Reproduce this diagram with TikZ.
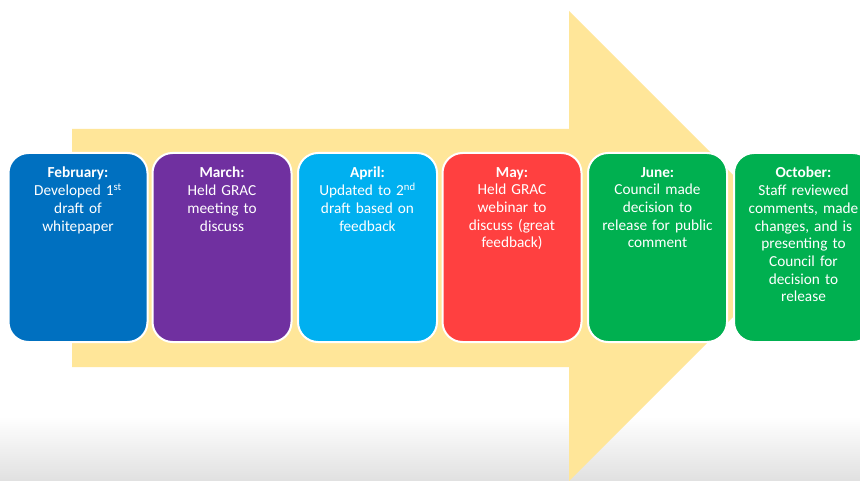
\documentclass[tikz,border=0pt]{standalone}
\usepackage{fontspec}
\setmainfont{Carlito}
\definecolor{arrowyellow}{HTML}{FFE699}
\definecolor{cblue}{HTML}{0070C0}
\definecolor{cpurple}{HTML}{7030A0}
\definecolor{clblue}{HTML}{00B0F0}
\definecolor{cred}{HTML}{FF4040}
\definecolor{cgreen}{HTML}{00B050}
\begin{document}
\begin{tikzpicture}[x=1pt,y=-1pt,
  stagebox/.style={draw=white, line width=2pt, rounded corners=20pt,
    minimum width=139pt, minimum height=189pt, inner sep=0pt},
  stagetext/.style={anchor=north, inner sep=0pt, text=white, text width=139pt,
    align=center, font=\fontsize{15.3}{17.7}\selectfont}]
\clip (0,0) rectangle (860,481);
\fill[white] (0,0) rectangle (860,481);
\shade[top color=white, bottom color=black!12] (0,416) rectangle (860,481);
% big arrow
\fill[arrowyellow] (72,129) -- (569,129) -- (569,11) -- (804,246) -- (569,481)
  -- (569,367) -- (72,367) -- cycle;
% boxes
\node[stagebox, fill=cblue]   (b1) at (78,247.5) {};
\node[stagebox, fill=cpurple] (b2) at (222,247.5) {};
\node[stagebox, fill=clblue]  (b3) at (367.5,247.5) {};
\node[stagebox, fill=cred]    (b4) at (512,247.5) {};
\node[stagebox, fill=cgreen]  (b5) at (657.5,247.5) {};
\node[stagebox, fill=cgreen]  (b6) at (803.5,247.5) {};
% texts
\node[stagetext] (t1) at ([yshift=-15pt]b1.north) {\textbf{February:}\\Developed 1\textsuperscript{st}\\draft of\\whitepaper};
\node[stagetext] (t2) at ([yshift=-15pt]b2.north) {\textbf{March:}\\Held GRAC\\meeting to\\discuss};
\node[stagetext] (t3) at ([yshift=-15pt]b3.north) {\textbf{April:}\\Updated to 2\textsuperscript{nd}\\draft based on\\feedback};
\node[stagetext] (t4) at ([yshift=-15pt]b4.north) {\textbf{May:}\\Held GRAC\\webinar to\\discuss (great\\feedback)};
\node[stagetext] (t5) at ([yshift=-15pt]b5.north) {\textbf{June:}\\Council made\\decision to\\release for public\\comment};
\node[stagetext] (t6) at ([yshift=-15pt]b6.north) {\textbf{October:}\\Staff reviewed\\comments, made\\changes, and is\\presenting to\\Council for\\decision to\\release};
\end{tikzpicture}
\end{document}
